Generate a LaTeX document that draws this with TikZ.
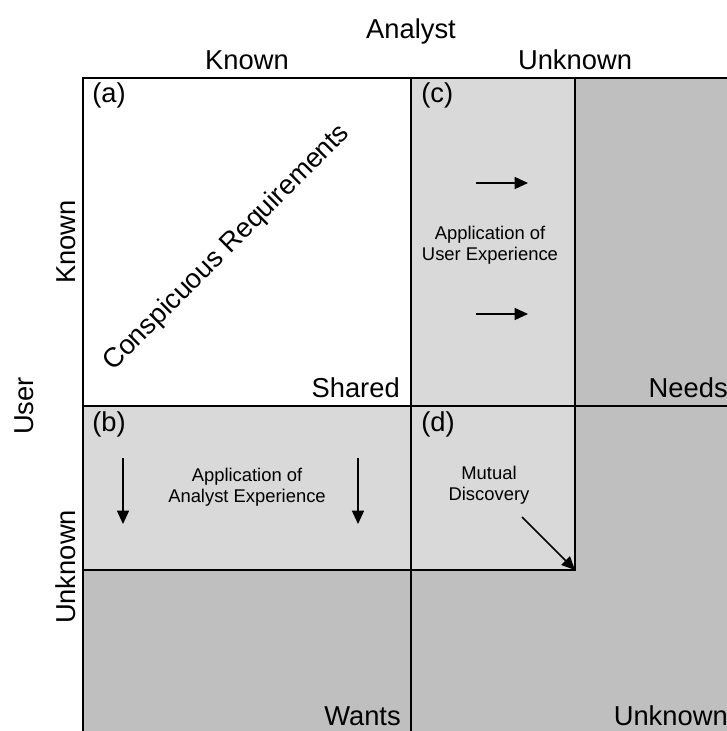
\documentclass[tikz,border=0pt]{standalone}
\usepackage{fontspec}
\setmainfont{Liberation Sans}
\usepackage{xcolor}
\usepackage{tikz}
\usetikzlibrary{arrows.meta}
\definecolor{lightcell}{HTML}{D9D9D9}
\definecolor{darkcell}{HTML}{BFBFBF}
\tikzstyle{gridline} = [line width=1.4pt, 
draw=black]
\tikzstyle{biglabel} = [inner sep=0pt, 
font=\fontsize{20.5pt}{24pt}\selectfont]
\tikzstyle{note} = [inner sep=0pt, 
align=center, 
font=\fontsize{13.8pt}{15.9pt}\selectfont]
\tikzstyle{arrow} = [line width=1.1pt,->,>={Triangle[length=10pt,width=9pt]}]

\begin{document}
\begin{tikzpicture}[x=0.75pt,y=-0.75pt]
\clip (0,0) rectangle (727,731);
% cells
\fill [darkcell] (83,78) rectangle (739,735);
\fill [white] (83,78) rectangle (411,406);
\fill [lightcell] (411,78) rectangle (575,570);
\fill [lightcell] (83,406) rectangle (411,570);

\draw [gridline] (83,735) -- (83,78) -- (739,78);
\draw [gridline] (411,78) -- (411,735);
\draw [gridline] (83,406) -- (739,406);
\draw [gridline] (575,78) -- (575,570) -- (83,570);

% axis titles
\node (analyst) [biglabel, anchor=base] at (411,39) {Analyst};
\node (aknown) [biglabel, anchor=base] at (247,70) {Known};
\node (aunknown) [biglabel, anchor=base] at (575,70) {Unknown};
\node (user) [biglabel, anchor=base, rotate=90] at (33,406) {User};
\node (uknown) [biglabel, anchor=base, rotate=90] at (75,242) {Known};
\node (uunknown) [biglabel, anchor=base, rotate=90] at (75,567) {Unknown};

% quadrant tags
\node (taga) [biglabel, anchor=base west] at (92,103) {(a)};
\node (tagc) [biglabel, anchor=base west] at (421,103) {(c)};
\node (tagb) [biglabel, anchor=base west] at (92,431) {(b)};
\node (tagd) [biglabel, anchor=base west] at (421,431) {(d)};

\node (shared) [biglabel, anchor=base east] at (400,397) {Shared};
\node (needs) [biglabel, anchor=base east] at (728,397) {Needs};
\node (wants) [biglabel, anchor=base east] at (401,725) {Wants};
\node (unknown) [biglabel, anchor=base east] at (728,725) {Unknown};

\node (conspicuous) [biglabel, rotate=45] at (227,248) {Conspicuous Requirements};

\node (userexp) [note] at (490,245) {Application of\\User Experience};
\node (analystexp) [note] at (247,487) {Application of\\Analyst Experience};
\node (mutual) [note] at (489,485) {Mutual\\Discovery};

% arrows
\coordinate (c1s) at (476,183);
\coordinate (c1e) at (528,183);
\coordinate (c2s) at (476,314);
\coordinate (c2e) at (528,314);
\coordinate (b1s) at (123,458);
\coordinate (b1e) at (123,524);
\coordinate (b2s) at (358,458);
\coordinate (b2e) at (358,524);
\coordinate (ds) at (522,517);
\coordinate (dcorner) at (575,570);

\draw [arrow] (c1s) -- (c1e);
\draw [arrow] (c2s) -- (c2e);
\draw [arrow] (b1s) -- (b1e);
\draw [arrow] (b2s) -- (b2e);
\draw [arrow] (ds) -- (dcorner);

\end{tikzpicture}
\end{document}
